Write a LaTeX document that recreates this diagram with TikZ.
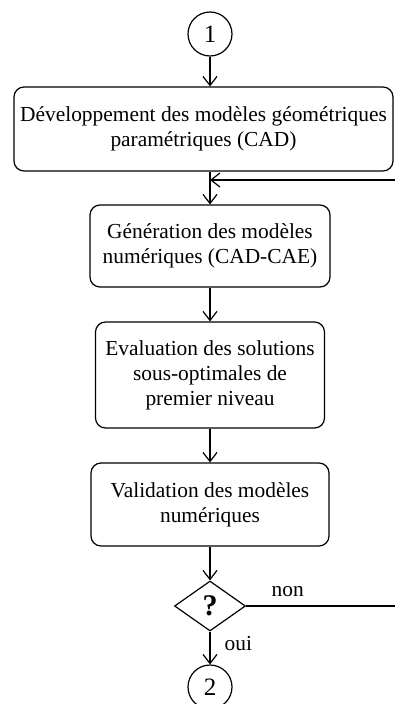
\documentclass[tikz,border=0pt]{standalone}
\usepackage{fontspec}
\setmainfont{Liberation Serif}
\usetikzlibrary{arrows.meta,shapes.geometric}

\begin{document}
\begin{tikzpicture}[x=1pt,y=1pt,line width=1.2pt,
  font=\fontsize{21.4}{25}\selectfont,
  etape/.style={draw, rounded corners=10pt, align=center, inner sep=0pt},
  connecteur/.style={draw, circle, minimum size=44pt, inner sep=0pt, font=\fontsize{25}{25}\selectfont},
  fleche/.style={-{Straight Barb[length=9pt,width=14pt]}}]
\useasboundingbox (0,0) rectangle (395,-704);

% Connecteur d'entrée
\node[connecteur] (c1) at (210,-34) {1};

% Étapes
\node[etape, minimum width=379pt, minimum height=84pt] (dev) at (203.5,-129) {Développement des modèles géométriques\\paramétriques (CAD)};
\node[etape, minimum width=240pt, minimum height=82pt] (gen) at (210,-246) {Génération des modèles\\numériques (CAD-CAE)};
\node[etape, minimum width=229pt, minimum height=106pt] (eval) at (210,-375) {Evaluation des solutions\\sous-optimales de\\premier niveau};
\node[etape, minimum width=238pt, minimum height=83pt] (valid) at (210,-504.5) {Validation des modèles\\numériques};

% Test
\node[draw, diamond, minimum width=71pt, minimum height=50pt, inner sep=0pt, font=\fontsize{30}{30}\selectfont\bfseries] (test) at (210,-606) {?};

% Connecteur de sortie
\node[connecteur] (c2) at (210,-687) {2};

% Flèches
\coordinate (retour) at (400,-180);
\coordinate (sortie) at (400,-606);
\draw[fleche] (c1) -- (dev.north -| c1);
\draw[fleche] (dev.south -| gen.north) -- (gen.north);
\draw[fleche] (retour) -- (retour -| gen.north);
\draw[fleche] (gen) -- (eval);
\draw[fleche] (eval) -- (valid);
\draw[fleche] (valid) -- (test);
\draw (test.east) -- node[above=5pt, pos=0.27] {non} (sortie);
\draw[fleche] (test.south) -- node[right=14pt, pos=0.35, inner sep=0pt] {oui} (c2);
\end{tikzpicture}
\end{document}
